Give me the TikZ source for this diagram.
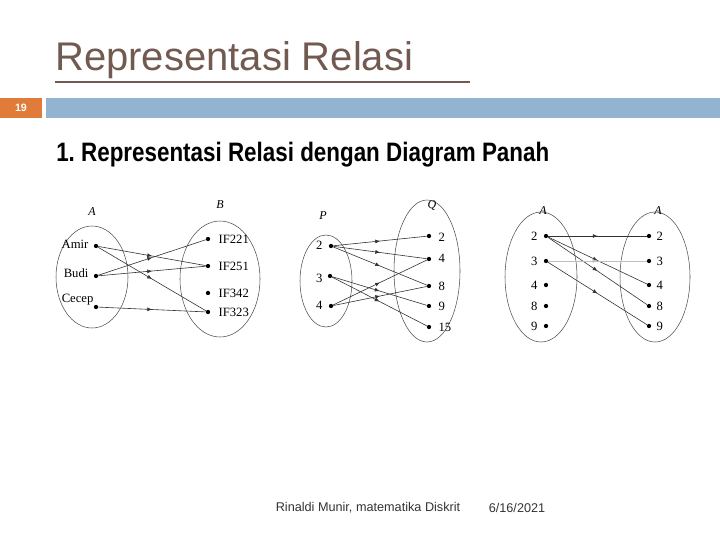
\documentclass[tikz,border=0pt]{standalone}
\usepackage{fontspec}
\setmainfont{Liberation Serif}
\newfontfamily\arialf{Liberation Sans}
\usetikzlibrary{decorations.markings,arrows.meta}
\definecolor{titlec}{HTML}{725A50}
\definecolor{orangec}{HTML}{E07B3A}
\definecolor{barc}{HTML}{93B4D1}
\begin{document}
\begin{tikzpicture}[x=0.75pt,y=-0.75pt,
  dot/.style={circle,fill=black,inner sep=0pt,minimum size=3.2pt},
  lab/.style={font=\fontsize{9.5}{10}\selectfont,inner sep=1pt},
  setl/.style={font=\fontsize{9}{10}\selectfont\itshape},
  ell/.style={draw=black!70,line width=0.4pt},
  rel/.style={draw=black!80,line width=0.45pt,postaction={decorate},
    decoration={markings,mark=at position 0.5 with {\arrow{Latex[length=3.5pt,width=3pt]}}}}]
\useasboundingbox (0,0) rectangle (720,540);
% header
\node[anchor=south west,inner sep=0pt,text=titlec,font=\arialf\fontsize{30}{32}\selectfont] (title) at (55,79) {Representasi Relasi};
\draw[titlec,line width=1.5pt] (55,82) -- (470,82);
\fill[orangec] (0,98) rectangle (42,118);
\node[text=white,font=\arialf\bfseries\fontsize{8}{9}\selectfont] (num) at (21,108) {19};
\fill[barc] (46,98) rectangle (720,118);
\node[anchor=west,inner sep=0pt,font=\arialf\bfseries\fontsize{20}{22}\selectfont] (sub) at (56,155) {\scalebox{0.84}[1]{1.\ Representasi Relasi dengan Diagram Panah}};
% diagram 1
\draw[ell] (92,277) ellipse [x radius=36, y radius=51];
\draw[ell] (220,279) ellipse [x radius=40, y radius=58];
\node[setl] (la) at (92,212) {A};
\node[setl] (lb) at (220,205) {B};
\node[dot] (amir) at (96,246) {}; \node[lab,anchor=east] at (90,244) {Amir};
\node[dot] (budi) at (96,276) {}; \node[lab,anchor=east] at (90,273) {Budi};
\node[dot] (cecep) at (96,307) {}; \node[lab,anchor=east] at (95,300) {Cecep};
\node[dot] (b1) at (208,239) {}; \node[lab,anchor=west] at (217,239) {IF221};
\node[dot] (b2) at (208,266) {}; \node[lab,anchor=west] at (217,266) {IF251};
\node[dot] (b3) at (208,293) {}; \node[lab,anchor=west] at (217,293) {IF342};
\node[dot] (b4) at (208,312) {}; \node[lab,anchor=west] at (217,312) {IF323};
\draw[rel] (amir) -- (b2);
\draw[rel] (amir) -- (b4);
\draw[rel] (budi) -- (b1);
\draw[rel] (budi) -- (b2);
\draw[rel] (cecep) -- (b4);
% diagram 2
\draw[ell] (326,281) ellipse [x radius=26, y radius=46];
\draw[ell] (427,271) ellipse [x radius=33, y radius=71];
\node[setl] (lp) at (323,216) {P};
\node[setl] (lq) at (432,205) {Q};
\node[dot] (p2) at (331,246) {}; \node[lab,anchor=east] at (324,245) {2};
\node[dot] (p3) at (330,276) {}; \node[lab,anchor=east] at (324,278) {3};
\node[dot] (p4) at (331,306) {}; \node[lab,anchor=east] at (324,305) {4};
\node[dot] (q2) at (429,236) {}; \node[lab,anchor=west] at (437,237) {2};
\node[dot] (q4) at (429,259) {}; \node[lab,anchor=west] at (437,258) {4};
\node[dot] (q8) at (429,286) {}; \node[lab,anchor=west] at (437,286) {8};
\node[dot] (q9) at (429,306) {}; \node[lab,anchor=west] at (437,306) {9};
\node[dot] (q15) at (429,327) {}; \node[lab,anchor=west] at (437,327) {15};
\draw[rel] (p2) -- (q2);
\draw[rel] (p2) -- (q4);
\draw[rel] (p2) -- (q8);
\draw[rel] (p3) -- (q9);
\draw[rel] (p3) -- (q15);
\draw[rel] (p4) -- (q4);
\draw[rel] (p4) -- (q8);
% diagram 3
\draw[ell] (541,277) ellipse [x radius=36, y radius=65];
\draw[ell] (655,277) ellipse [x radius=35, y radius=65];
\node[setl] (la1) at (543,211) {A};
\node[setl] (la2) at (658,211) {A};
\foreach \n/\y in {2/236,3/261,4/285,8/306,9/326}{
  \node[dot] (l\n) at (546,\y) {}; \node[lab,anchor=east] at (539,\y) {\n};
  \node[dot] (r\n) at (649,\y) {}; \node[lab,anchor=west] at (655,\y) {\n};
}
\draw[rel] (l2) -- (r2);
\draw[rel] (l2) -- (r4);
\draw[rel] (l2) -- (r8);
\draw[rel,draw=black!25] (l3) -- (r3);
\draw[rel] (l3) -- (r9);
% footer
\node[font=\arialf\fontsize{9.5}{10}\selectfont,text=black!80] (foot) at (368,508) {Rinaldi Munir, matematika Diskrit};
\node[font=\arialf\fontsize{9.5}{10}\selectfont,text=black!80] (date) at (517,508) {6/16/2021};
\end{tikzpicture}
\end{document}
